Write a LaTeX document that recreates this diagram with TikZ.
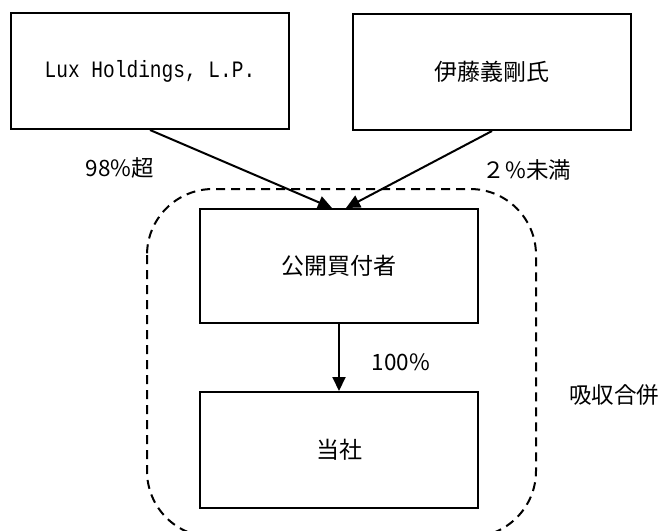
\documentclass[tikz,border=0pt]{standalone}
\usepackage{fontspec}
\usepackage{tikz}
\usetikzlibrary{arrows.meta}
\newfontfamily\jpfont{Noto Sans CJK JP}
\newfontfamily\luxfont[FakeStretch=0.83]{Liberation Mono}
\tikzset{
	entity/.style={draw, line width=2pt, minimum width=278pt, minimum height=116pt, inner sep=0pt, font=\jpfont\fontsize{23}{26}\selectfont},
	share/.style={line width=2pt, -{Triangle[length=14pt,width=13pt]}},
	pct/.style={font=\jpfont\fontsize{22.5}{26}\selectfont, inner sep=0pt}
}

\begin{document}
\begin{tikzpicture}[x=1pt,y=-1pt]
		\useasboundingbox (0,0) rectangle (663,530);
		% Shareholders
		\node[entity, font=\luxfont\fontsize{23.5}{26}\selectfont] (lux) at (150,71) {Lux Holdings, L.P.};
		\node[entity] (ito) at (492,72) {伊藤義剛氏};
		% Merger group
		\node[entity, minimum height=114pt] (tob) at (339,266) {公開買付者};
		\node[entity] (toc) at (339,450) {当社};
		\draw[dashed, dash pattern=on 9pt off 6pt, line width=2pt, rounded corners=66pt] (147,189) rectangle (536,537);
		% Holdings
		\draw[share] (lux.south) -- ([xshift=-7pt]tob.north);
		\draw[share] (ito.south) -- ([xshift=7pt]tob.north);
		\draw[share] (tob) -- (toc);
		\node[pct] (pctlux) at (120,168) {98\%超};
		\node[pct] (pctito) at (527,170) {２\%未満};
		\node[pct] (pcttoc) at (401,362) {100\%};
		\node[pct] (merger) at (614,395) {吸収合併};
	\end{tikzpicture}
\end{document}
